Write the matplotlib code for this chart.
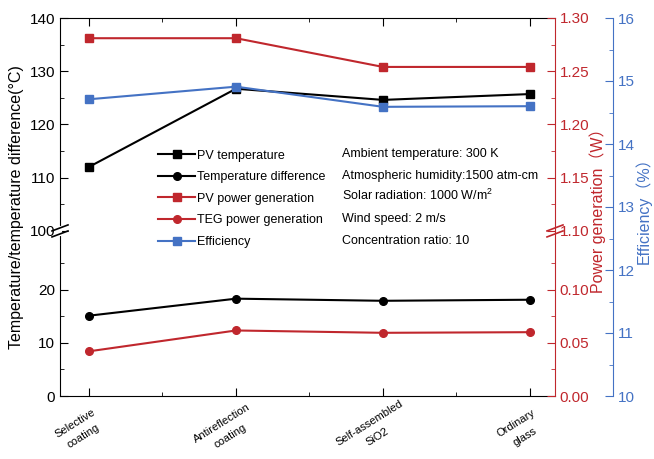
import matplotlib
matplotlib.use("Agg")
import matplotlib.pyplot as plt
import numpy as np

plt.rcParams["font.family"] = ["Liberation Sans", "Noto Sans CJK SC", "DejaVu Sans"]
plt.rcParams["mathtext.fontset"] = "custom"
plt.rcParams["mathtext.rm"] = "Liberation Sans"

categories = ["Selective\ncoating", "Antireflection\ncoating", "Self-assembled\nSiO2", "Ordinary\nglass"]
pv_temperature = [112.0, 126.7, 124.6, 125.7]
temperature_difference = [15.1, 18.3, 17.9, 18.1]
pv_power = [1.281, 1.281, 1.254, 1.254]
teg_power = [0.042, 0.0616, 0.0594, 0.060]
efficiency = [14.71, 14.91, 14.59, 14.60]
conditions = ["Ambient temperature: 300 K", "Atmospheric humidity:1500 atm-cm",
              "Solar radiation: 1000 W/m$^2$", "Wind speed: 2 m/s", "Concentration ratio: 10"]

RED = "#c0272d"
BLUE = "#4472c4"

# broken axis: 0..31 and 100..140 share one scale, the gap is squeezed out
def fwd_left(v):
    return np.interp(v, [-1000, 31, 100, 1000], [-1000, 31, 31.07, 931.07])
def inv_left(y):
    return np.interp(y, [-1000, 31, 31.07, 931.07], [-1000, 31, 100, 1000])
def fwd_red(r):
    return np.interp(r, [-5, 0.155, 1.10, 5], [-1000, 31, 31.07, 811.07])
def inv_red(y):
    return np.interp(y, [-1000, 31, 31.07, 811.07], [-5, 0.155, 1.10, 5])

fig = plt.figure(figsize=(6.54, 4.59), dpi=100)
ax = fig.add_axes([60/654, 63/459, 495/654, 378/459])
axr = ax.twinx()
axb = ax.twinx()
x = np.arange(len(categories))

ax.set_yscale("function", functions=(fwd_left, inv_left))
axr.set_yscale("function", functions=(fwd_red, inv_red))
ax.set_ylim(0, 140); axr.set_ylim(0, 1.30); axb.set_ylim(10, 16)
ax.set_xlim(-0.197, 3.17)

kw = dict(lw=1.5, ms=5.5)
l1, = ax.plot(x, pv_temperature, "-s", color="black", label="PV temperature", **kw)
l2, = ax.plot(x, temperature_difference, "-o", color="black", label="Temperature difference", **kw)
l3, = axr.plot(x, pv_power, "-s", color=RED, label="PV power generation", **kw)
l4, = axr.plot(x, teg_power, "-o", color=RED, label="TEG power generation", **kw)
l5, = axb.plot(x, efficiency, "-s", color=BLUE, label="Efficiency", **kw)

ax.set_yticks([0, 10, 20, 100, 110, 120, 130, 140])
ax.set_yticks([5, 15, 25, 105, 115, 125, 135], minor=True)
axr.set_yticks([0, 0.05, 0.10, 1.10, 1.15, 1.20, 1.25, 1.30])
axr.set_yticks([0.025, 0.075, 0.125, 1.125, 1.175, 1.225, 1.275], minor=True)
axr.set_yticklabels(["0.00", "0.05", "0.10", "1.10", "1.15", "1.20", "1.25", "1.30"])
axb.set_yticks(np.arange(10, 17, 1))
axb.set_yticks(np.arange(10.5, 16, 1), minor=True)
ax.set_xticks(x)
ax.set_xticks([0.5, 1.5, 2.5], minor=True)
ax.set_xticklabels([])
# rotated two-line category labels, sitting a little left of each tick
for xi, cat in zip(x, categories):
    ax.annotate(cat, xy=(xi, 0), xycoords=("data", "axes fraction"), xytext=(-7, -24.5),
                textcoords="offset points", ha="center", va="center", rotation=32,
                fontsize=8, linespacing=1.7, annotation_clip=False)
ax.tick_params(axis="x", which="both", direction="in", top=True)
ax.tick_params(axis="x", which="major", length=6)
ax.tick_params(axis="x", which="minor", length=3)
ax.tick_params(axis="y", which="major", direction="in", length=6, labelsize=11)
ax.tick_params(axis="y", which="minor", direction="in", length=3)
axr.tick_params(axis="y", which="both", direction="in", colors=RED, labelsize=11)
axr.tick_params(axis="y", which="major", length=6)
axr.tick_params(axis="y", which="minor", length=3)
axb.tick_params(axis="y", which="both", direction="in", colors=BLUE, labelsize=11)
axb.tick_params(axis="y", which="major", length=6)
axb.tick_params(axis="y", which="minor", length=3)

ax.spines["right"].set_visible(False)
for s in ["left", "top", "bottom"]:
    axr.spines[s].set_visible(False)
    axb.spines[s].set_visible(False)
axr.spines["right"].set_color(RED)
axb.spines["right"].set_color(BLUE)
axb.spines["right"].set_position(("axes", 1.117))

ax.set_ylabel("Temperature/temperature difference(°C)", fontsize=11.5, labelpad=4)
axr.set_ylabel("Power generation（W）", color=RED, fontsize=11.5, labelpad=0)
axb.set_ylabel("Efficiency（%）", color=BLUE, fontsize=11.5, labelpad=0)

# break marks on left and red spines
yb = fwd_left(65.5) / fwd_left(140)
dx, dy = 1/495, 1/378
for xs, c in [(0, "black"), (1, RED)]:
    ax.plot([xs, xs], [yb - 3*dy, yb + 3*dy], color="white", lw=3,
            transform=ax.transAxes, clip_on=False, zorder=5)
    for off in (-3*dy, 3*dy):
        ax.plot([xs - 8*dx, xs + 8*dx], [yb + off - 3*dy, yb + off + 3*dy], color=c,
                lw=1.2, transform=ax.transAxes, clip_on=False, zorder=6)

ax.legend(handles=[l1, l2, l3, l4, l5], loc="upper left", bbox_to_anchor=(0.18, 0.675),
          frameon=False, fontsize=9, handlelength=3, handletextpad=0.15, labelspacing=0.77,
          borderpad=0.2)
for i, t in enumerate(conditions):
    ax.text(0.5697, 0.631 - i*0.0569, t, transform=ax.transAxes, fontsize=9, va="baseline")

fig.savefig("out.png", dpi=100)
